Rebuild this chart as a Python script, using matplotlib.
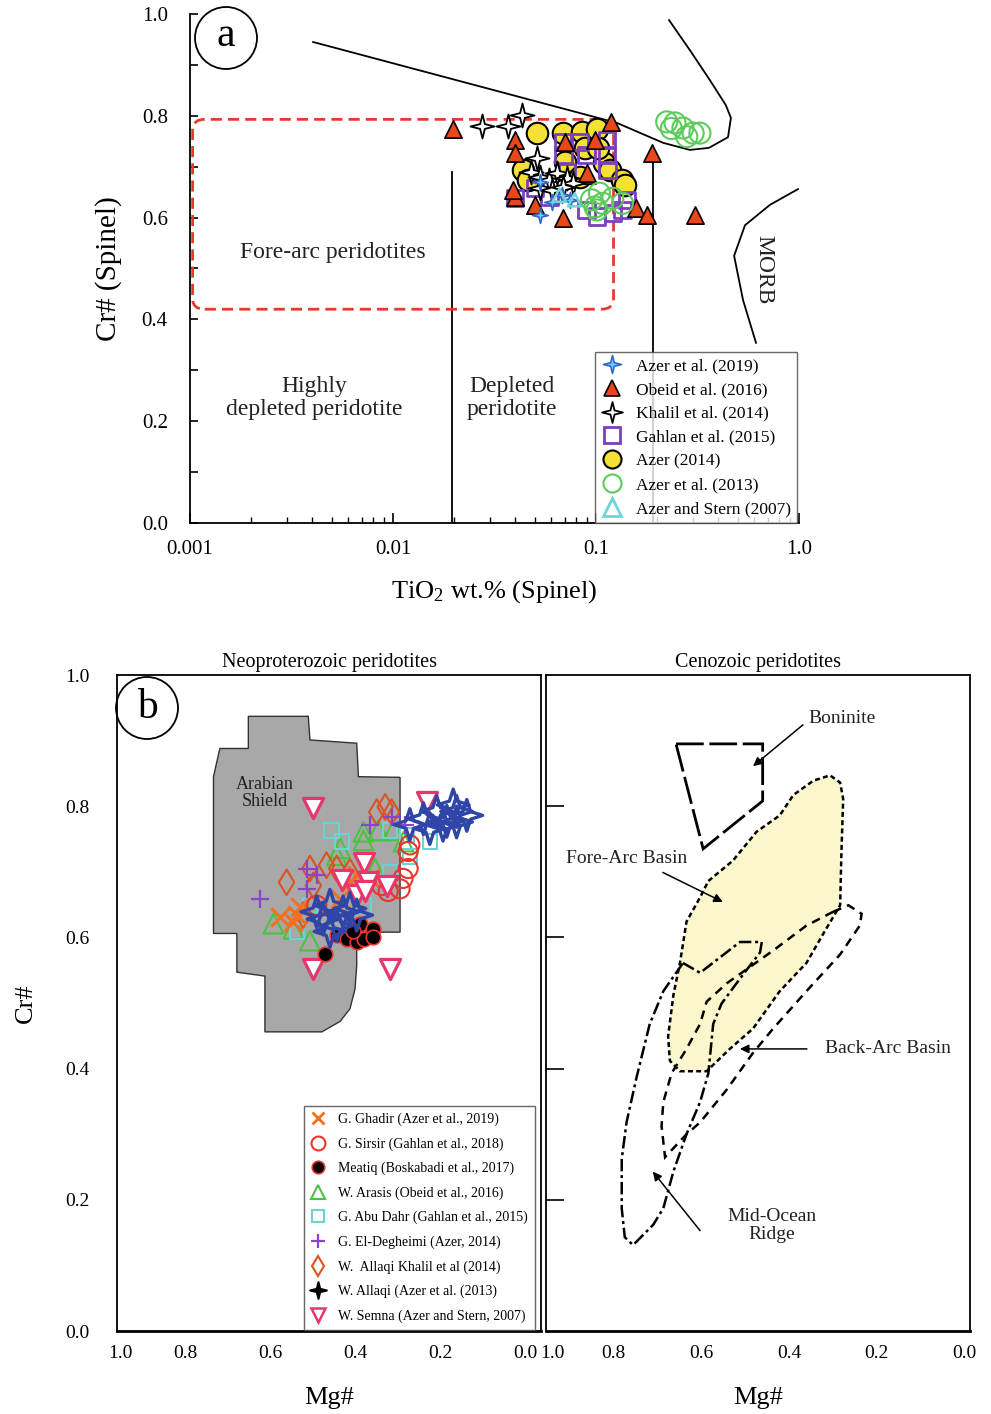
import numpy as np
import matplotlib
matplotlib.use('Agg')
import matplotlib.pyplot as plt
from matplotlib.path import Path
from matplotlib.patches import Polygon, FancyBboxPatch, Ellipse
from matplotlib.lines import Line2D
from matplotlib.ticker import FixedLocator, NullFormatter, LogLocator

plt.rcParams['font.family'] = ['Liberation Serif', 'DejaVu Serif']
plt.rcParams['mathtext.fontset'] = 'custom'
plt.rcParams['mathtext.rm'] = 'Liberation Serif'
plt.rcParams['mathtext.it'] = 'Liberation Serif:italic'

# ---------------- Panel a data (TiO2 wt.%, Cr#) ----------------
azer2019_ti = [0.053, 0.061, 0.0745, 0.068, 0.053]
azer2019_cr = [0.605, 0.631, 0.635, 0.644, 0.670]

obeid_ti = [0.0198, 0.0399, 0.0399, 0.119, 0.0501, 0.069, 0.040, 0.090, 0.099,
            0.070, 0.158, 0.178, 0.307, 0.188, 0.039, 0.090]
obeid_cr = [0.775, 0.752, 0.726, 0.788, 0.625, 0.599, 0.641, 0.684, 0.752,
            0.749, 0.618, 0.605, 0.605, 0.726, 0.654, 0.688]

khalil_ti = [0.0274, 0.037, 0.043, 0.051, 0.048, 0.053, 0.059, 0.064, 0.072,
             0.077, 0.053, 0.061, 0.069]
khalil_cr = [0.779, 0.779, 0.802, 0.717, 0.690, 0.680, 0.674, 0.688, 0.678,
             0.668, 0.658, 0.654, 0.660]

gahlan_ti = [0.069, 0.083, 0.113, 0.069, 0.090, 0.114, 0.072, 0.040, 0.050,
             0.090, 0.101, 0.142, 0.121, 0.135, 0.059, 0.113]
gahlan_cr = [0.749, 0.749, 0.752, 0.723, 0.723, 0.694, 0.690, 0.638, 0.658,
             0.615, 0.602, 0.635, 0.609, 0.615, 0.641, 0.723]

azer2014_ti = [0.051, 0.069, 0.085, 0.101, 0.0438, 0.0464, 0.070, 0.109, 0.117,
               0.134, 0.139, 0.083, 0.088, 0.102]
azer2014_cr = [0.766, 0.766, 0.769, 0.775, 0.694, 0.674, 0.710, 0.707, 0.694,
               0.674, 0.664, 0.680, 0.737, 0.737]

azer2013_ti = [0.095, 0.104, 0.099, 0.108, 0.121, 0.135, 0.101, 0.223, 0.245,
               0.268, 0.301, 0.325, 0.280, 0.235]
azer2013_cr = [0.635, 0.648, 0.621, 0.628, 0.638, 0.628, 0.615, 0.788, 0.786,
               0.776, 0.766, 0.766, 0.759, 0.775]

azerstern_ti = [0.0785, 0.066]
azerstern_cr = [0.635, 0.644]

legend_a = ['Azer et al. (2019)', 'Obeid et al. (2016)', 'Khalil et al. (2014)',
            'Gahlan et al. (2015)', 'Azer (2014)', 'Azer et al. (2013)',
            'Azer and Stern (2007)']

# discrimination boundaries (panel a)
upper_ti = [0.00404, 0.1268, 0.2138, 0.290, 0.360, 0.447, 0.462, 0.436, 0.364, 0.290, 0.229]
upper_cr = [0.945, 0.786, 0.747, 0.733, 0.737, 0.758, 0.796, 0.821, 0.870, 0.929, 0.988]
morb_ti = [0.989, 0.719, 0.542, 0.479, 0.530, 0.614]
morb_cr = [0.656, 0.625, 0.585, 0.525, 0.438, 0.354]
vline1_ti, vline1_cr = [0.0195, 0.0195], [0.0, 0.69]
vline2_ti, vline2_cr = [0.191, 0.191], [0.0, 0.74]
forearc_box_ti = [0.00103, 0.122]
forearc_box_cr = [0.420, 0.793]

xticks_a = [0.001, 0.01, 0.1, 1.0]
xticklabels_a = ['0.001', '0.01', '0.1', '1.0']
yticks_a = [0.0, 0.2, 0.4, 0.6, 0.8, 1.0]

# ---------------- Panel b data (Mg#, Cr#) ----------------
ghadir_mg = [0.576, 0.537, 0.529, 0.546, 0.435, 0.412, 0.396, 0.365]
ghadir_cr = [0.631, 0.634, 0.646, 0.624, 0.659, 0.685, 0.695, 0.690]

sirsir_mg = [0.271, 0.275, 0.275, 0.294, 0.322, 0.337, 0.287, 0.490]
sirsir_cr = [0.741, 0.731, 0.705, 0.674, 0.670, 0.679, 0.690, 0.649]

meatiq_mg = [0.388, 0.357, 0.443, 0.420, 0.396, 0.380, 0.357, 0.471, 0.405]
meatiq_cr = [0.621, 0.613, 0.603, 0.598, 0.593, 0.598, 0.601, 0.575, 0.609]

arasis_mg = [0.380, 0.345, 0.310, 0.380, 0.435, 0.443, 0.353, 0.592, 0.545, 0.506, 0.286]
arasis_cr = [0.761, 0.763, 0.763, 0.748, 0.736, 0.725, 0.705, 0.621, 0.613, 0.595, 0.746]

abudahr_mg = [0.455, 0.318, 0.278, 0.224, 0.271, 0.431, 0.318, 0.506, 0.537, 0.380]
abudahr_cr = [0.763, 0.763, 0.756, 0.746, 0.723, 0.746, 0.700, 0.649, 0.609, 0.649]

degheimi_mg = [0.624, 0.514, 0.514, 0.365, 0.314, 0.282, 0.490]
degheimi_cr = [0.659, 0.705, 0.674, 0.771, 0.784, 0.771, 0.695]

khalilb_mg = [0.561, 0.506, 0.498, 0.467, 0.443, 0.349, 0.329, 0.314, 0.412, 0.522]
khalilb_cr = [0.684, 0.705, 0.679, 0.710, 0.705, 0.791, 0.799, 0.791, 0.700, 0.634]

allaqi_mg = [0.239, 0.208, 0.184, 0.161, 0.137, 0.224, 0.193, 0.161, 0.169, 0.271,
             0.459, 0.428, 0.475, 0.443, 0.412, 0.490, 0.396, 0.459]
allaqi_cr = [0.781, 0.792, 0.777, 0.792, 0.786, 0.766, 0.771, 0.776, 0.802, 0.772,
             0.649, 0.639, 0.628, 0.618, 0.644, 0.639, 0.634, 0.609]

semna_mg = [0.498, 0.231, 0.380, 0.431, 0.369, 0.325, 0.396, 0.376, 0.498, 0.318]
semna_cr = [0.797, 0.807, 0.713, 0.687, 0.685, 0.679, 0.664, 0.670, 0.552, 0.552]

legend_b = ['G. Ghadir (Azer et al., 2019)', 'G. Sirsir (Gahlan et al., 2018)',
            'Meatiq (Boskabadi et al., 2017)', 'W. Arasis (Obeid et al., 2016)',
            'G. Abu Dahr (Gahlan et al., 2015)', 'G. El-Degheimi (Azer, 2014)',
            'W.  Allaqi Khalil et al (2014)', 'W. Allaqi (Azer et al. (2013)',
            'W. Semna (Azer and Stern, 2007)']

shield_mg = [0.651, 0.510, 0.506, 0.396, 0.392, 0.294, 0.294, 0.396, 0.396, 0.400,
             0.412, 0.435, 0.478, 0.612, 0.612, 0.678, 0.678, 0.733, 0.733, 0.718, 0.651]
shield_cr = [0.937, 0.937, 0.901, 0.896, 0.845, 0.844, 0.608, 0.608, 0.557, 0.521,
             0.491, 0.472, 0.456, 0.456, 0.541, 0.547, 0.606, 0.606, 0.845, 0.888, 0.888]

boninite_mg = [0.658, 0.460, 0.460, 0.596]
boninite_cr = [0.895, 0.895, 0.808, 0.735]

forearc_mg = [0.584, 0.528, 0.474, 0.421, 0.390, 0.344, 0.306, 0.283, 0.276, 0.280,
              0.283, 0.322, 0.360, 0.421, 0.482, 0.535, 0.588, 0.649, 0.672, 0.676,
              0.664, 0.649, 0.634, 0.603]
forearc_cr = [0.686, 0.717, 0.761, 0.786, 0.817, 0.839, 0.847, 0.836, 0.811, 0.730,
              0.649, 0.605, 0.561, 0.518, 0.461, 0.430, 0.396, 0.396, 0.412, 0.449,
              0.512, 0.561, 0.624, 0.661]

backarc_mg = [0.299, 0.264, 0.234, 0.238, 0.283, 0.360, 0.436, 0.482, 0.542, 0.603,
              0.634, 0.683, 0.691, 0.687, 0.668, 0.634, 0.603, 0.588, 0.542, 0.436, 0.360]
backarc_cr = [0.639, 0.649, 0.636, 0.618, 0.574, 0.518, 0.461, 0.424, 0.368, 0.318,
              0.300, 0.265, 0.312, 0.349, 0.393, 0.430, 0.468, 0.502, 0.530, 0.580, 0.618]

mor_mg = [0.642, 0.603, 0.512, 0.462, 0.466, 0.512, 0.554, 0.573, 0.584, 0.603,
          0.634, 0.664, 0.687, 0.710, 0.756, 0.775, 0.782, 0.782, 0.771, 0.748,
          0.718, 0.687]
mor_cr = [0.561, 0.546, 0.593, 0.593, 0.577, 0.537, 0.499, 0.468, 0.393, 0.349,
          0.300, 0.243, 0.187, 0.162, 0.131, 0.143, 0.187, 0.262, 0.318, 0.387,
          0.468, 0.518]

yticks_b = [0.0, 0.2, 0.4, 0.6, 0.8, 1.0]
xticks_b = [0.8, 0.6, 0.4, 0.2, 0.0]


def star4(inner=0.3):
    ang = np.arange(8) * np.pi / 4 + np.pi / 2
    r = np.where(np.arange(8) % 2 == 0, 1.0, inner)
    v = np.column_stack([r * np.cos(ang), r * np.sin(ang)])
    v = np.vstack([v, v[0]])
    codes = [Path.MOVETO] + [Path.LINETO] * 7 + [Path.CLOSEPOLY]
    return Path(v, codes)


STAR = star4(0.28)
STARB = star4(0.34)

W, H = 991, 1414
fig = plt.figure(figsize=(W / 100, H / 100), dpi=100)


def ax_rect(x0, y0, x1, y1):
    return [x0 / W, 1 - y1 / H, (x1 - x0) / W, (y1 - y0) / H]

# =============================== Panel a ===============================
axA = fig.add_axes(ax_rect(190, 14, 799, 523))
axA.set_xscale('log')
axA.set_xlim(0.001, 1.0)
axA.set_ylim(0.0, 1.0)
for s in ['top', 'right']:
    axA.spines[s].set_visible(False)
for s in ['left', 'bottom']:
    axA.spines[s].set_linewidth(1.3)

axA.xaxis.set_major_locator(FixedLocator(xticks_a))
axA.set_xticklabels(xticklabels_a)
axA.xaxis.set_minor_locator(LogLocator(base=10, subs=np.arange(2, 10)))
axA.xaxis.set_minor_formatter(NullFormatter())
axA.set_yticks(yticks_a)
axA.set_yticklabels(['%.1f' % v for v in yticks_a])
axA.yaxis.set_minor_locator(FixedLocator(np.arange(0.1, 1.0, 0.2)))
axA.tick_params(axis='x', which='major', direction='in', length=7, width=1.2,
                labelsize=15, pad=12)
axA.tick_params(axis='x', which='minor', direction='in', length=4, width=1.0)
axA.tick_params(axis='y', which='both', direction='in', length=6, width=1.2,
                labelsize=15, pad=16)

lk = dict(color='black', lw=1.3, zorder=2)
axA.plot(upper_ti, upper_cr, **lk)
axA.plot(morb_ti, morb_cr, **lk)
axA.plot(vline1_ti, vline1_cr, **lk)
axA.plot(vline2_ti, vline2_cr, **lk)

# fore-arc rounded box
p0 = axA.transAxes.inverted().transform(axA.transData.transform((forearc_box_ti[0], forearc_box_cr[0])))
p1 = axA.transAxes.inverted().transform(axA.transData.transform((forearc_box_ti[1], forearc_box_cr[1])))
box = FancyBboxPatch(tuple(p0), p1[0] - p0[0], p1[1] - p0[1],
                     boxstyle='round,pad=0,rounding_size=0.02',
                     transform=axA.transAxes, fill=False, edgecolor='#E53B2E',
                     linestyle=(0, (4, 2.2)), lw=2.0, zorder=2)
axA.add_patch(box)

axA.scatter(azer2014_ti, azer2014_cr, s=240, marker='o', facecolor='#F5E133',
            edgecolor='black', linewidth=1.5, zorder=3)
axA.scatter(gahlan_ti, gahlan_cr, s=140, marker='s', facecolor='none',
            edgecolor='#7B3FBF', linewidth=2.0, zorder=4)
axA.scatter(obeid_ti, obeid_cr, s=155, marker='^', facecolor='#E8471A',
            edgecolor='black', linewidth=1.2, zorder=5)
axA.scatter(khalil_ti, khalil_cr, s=300, marker=STAR, facecolor='white',
            edgecolor='black', linewidth=1.3, zorder=6)
axA.scatter(azer2019_ti, azer2019_cr, s=130, marker=STAR, facecolor='#62D2F2',
            edgecolor='#3866C8', linewidth=1.2, zorder=7)
axA.scatter(azerstern_ti, azerstern_cr, s=90, marker='^', facecolor='none',
            edgecolor='#70D4D8', linewidth=1.8, zorder=7)
axA.scatter(azer2013_ti, azer2013_cr, s=230, marker='o', facecolor='none',
            edgecolor='#5CCB5C', linewidth=1.5, zorder=8)

tk = dict(fontsize=17, ha='center', va='center', color='#222222')
axA.text(0.00506, 0.532, 'Fore-arc peridotites', **tk)
axA.text(0.00408, 0.246, 'Highly\ndepleted peridotite', linespacing=1.15, **tk)
axA.text(0.0386, 0.246, 'Depleted\nperidotite', linespacing=1.15, **tk)
axA.text(0.673, 0.497, 'MORB', rotation=-90, **tk)

axA.set_ylabel('Cr# (Spinel)', fontsize=21, labelpad=14)
axA.set_xlabel('TiO$_2$ wt.% (Spinel)', fontsize=19, labelpad=14)

handles_a = [
    Line2D([], [], ls='none', marker=STAR, ms=13, mfc='#62D2F2', mec='#3866C8', mew=1.2),
    Line2D([], [], ls='none', marker='^', ms=11, mfc='#E8471A', mec='black', mew=1.2),
    Line2D([], [], ls='none', marker=STAR, ms=15, mfc='white', mec='black', mew=1.3),
    Line2D([], [], ls='none', marker='s', ms=11, mfc='none', mec='#7B3FBF', mew=2.0),
    Line2D([], [], ls='none', marker='o', ms=13, mfc='#F5E133', mec='black', mew=1.5),
    Line2D([], [], ls='none', marker='o', ms=13, mfc='none', mec='#5CCB5C', mew=1.5),
    Line2D([], [], ls='none', marker='^', ms=13, mfc='none', mec='#70D4D8', mew=2.0),
]
legA = axA.legend(handles_a, legend_a, loc='lower right', bbox_to_anchor=(0.9967, 0.0),
                  borderaxespad=0, frameon=True, fancybox=False, edgecolor='#444444',
                  fontsize=12.5, labelspacing=0.44, handlelength=1.2, handletextpad=0.8,
                  borderpad=0.35)
legA.get_frame().set_linewidth(1.0)
legA.set_zorder(10)

fig.add_artist(Ellipse((226 / W, 1 - 38 / H), 62 / W, 62 / H, transform=fig.transFigure,
                       fill=False, edgecolor='black', lw=1.3))
fig.text(226 / W, 1 - 36 / H, 'a', fontsize=30, ha='center', va='center')

# =============================== Panel b ===============================
axL = fig.add_axes(ax_rect(117, 675, 541, 1331))
axR = fig.add_axes(ax_rect(546, 675, 970, 1331))
axL.set_xlim(0.96, -0.0376)
axR.set_xlim(0.955, -0.0137)
for ax in (axL, axR):
    ax.set_ylim(0.0, 1.0)
    for s in ax.spines.values():
        s.set_linewidth(1.3)
    ax.spines['bottom'].set_linewidth(2.0)

axL.set_yticks(yticks_b)
axL.set_yticklabels(['%.1f' % v for v in yticks_b])
axL.tick_params(axis='y', direction='in', length=0, labelsize=14, pad=20)
axL.set_xticks([0.953] + xticks_b)
axL.set_xticklabels(['1.0'] + ['%.1f' % v for v in xticks_b])
axL.xaxis.set_minor_locator(FixedLocator([0.8, 0.6, 0.4, 0.2]))
axL.tick_params(axis='x', which='major', direction='in', length=0, labelsize=14, pad=10)
axL.tick_params(axis='x', which='minor', direction='in', length=9, width=1.2)

axR.set_yticks([0.2, 0.4, 0.6, 0.8])
axR.set_yticklabels([])
axR.tick_params(axis='y', direction='in', length=13, width=1.2)
axR.set_xticks([0.94] + xticks_b)
axR.set_xticklabels(['1.0'] + ['%.1f' % v for v in xticks_b])
axR.xaxis.set_minor_locator(FixedLocator([0.8, 0.6, 0.4, 0.2]))
axR.tick_params(axis='x', which='major', direction='in', length=0, labelsize=14, pad=10)
axR.tick_params(axis='x', which='minor', direction='in', length=9, width=1.2)

axL.set_title('Neoproterozoic peridotites', fontsize=14.5, pad=6)
axR.set_title('Cenozoic peridotites', fontsize=14.5, pad=6)
axL.set_xlabel('Mg#', fontsize=19, labelpad=18)
axR.set_xlabel('Mg#', fontsize=19, labelpad=18)
axL.set_ylabel('Cr#', fontsize=19)
axL.yaxis.set_label_coords(-0.19, 0.5)

# Arabian Shield field
axL.add_patch(Polygon(np.column_stack([shield_mg, shield_cr]), closed=True,
                      facecolor='#A8A8A8', edgecolor='#333333', lw=1.0, zorder=1))
axL.text(0.612, 0.820, 'Arabian\nShield', fontsize=13, ha='center', va='center',
         linespacing=1.0, color='#222222', zorder=2)

axL.scatter(arasis_mg, arasis_cr, s=200, marker='^', facecolor='none',
            edgecolor='#4CC242', linewidth=1.5, zorder=3)
axL.scatter(abudahr_mg, abudahr_cr, s=110, marker='s', facecolor='none',
            edgecolor='#6CD3D3', linewidth=1.5, zorder=3)
axL.scatter(khalilb_mg, khalilb_cr, s=170, marker='d', facecolor='none',
            edgecolor='#D9541E', linewidth=1.5, zorder=4)
axL.scatter(degheimi_mg, degheimi_cr, s=180, marker='+', color='#8A44C8',
            linewidth=1.6, zorder=4)
axL.scatter(ghadir_mg, ghadir_cr, s=170, marker='x', color='#F37021',
            linewidth=2.2, zorder=5)
axL.scatter(sirsir_mg, sirsir_cr, s=190, marker='o', facecolor='none',
            edgecolor='#E8362B', linewidth=1.5, zorder=5)
axL.scatter(semna_mg, semna_cr, s=210, marker='v', facecolor='white',
            edgecolor='#E8356A', linewidth=2.3, zorder=6)
axL.scatter(meatiq_mg, meatiq_cr, s=110, marker='o', facecolor='black',
            edgecolor='#E8362B', linewidth=1.2, zorder=6)
axL.scatter(allaqi_mg, allaqi_cr, s=520, marker=STARB, facecolor='none',
            edgecolor='#2F45A8', linewidth=2.4, zorder=7)

handles_b = [
    Line2D([], [], ls='none', marker='x', ms=9, mec='#F37021', mew=2.0),
    Line2D([], [], ls='none', marker='o', ms=10, mfc='none', mec='#E8362B', mew=1.5),
    Line2D([], [], ls='none', marker='o', ms=9, mfc='black', mec='#E8362B', mew=1.2),
    Line2D([], [], ls='none', marker='^', ms=10, mfc='none', mec='#4CC242', mew=1.5),
    Line2D([], [], ls='none', marker='s', ms=8, mfc='none', mec='#6CD3D3', mew=1.5),
    Line2D([], [], ls='none', marker='+', ms=10, mec='#8A44C8', mew=1.6),
    Line2D([], [], ls='none', marker='d', ms=10, mfc='none', mec='#D9541E', mew=1.5),
    Line2D([], [], ls='none', marker=STAR, ms=12, mfc='black', mec='black', mew=1.5),
    Line2D([], [], ls='none', marker='v', ms=10, mfc='none', mec='#E8356A', mew=1.8),
]
legB = axL.legend(handles_b, legend_b, loc='lower right', bbox_to_anchor=(0.986, 0.002),
                  borderaxespad=0, frameon=True, fancybox=False, edgecolor='#444444',
                  fontsize=10, labelspacing=0.8, handlelength=1.0, handletextpad=1.0,
                  borderpad=0.5)
legB.get_frame().set_linewidth(1.0)
legB.set_zorder(10)

fig.add_artist(Ellipse((147 / W, 1 - 708 / H), 62 / W, 62 / H, transform=fig.transFigure,
                       fill=False, edgecolor='black', lw=1.3))
fig.text(147 / W, 1 - 708 / H, 'b', fontsize=30, ha='center', va='center')

# Cenozoic fields
axR.add_patch(Polygon(np.column_stack([forearc_mg, forearc_cr]), closed=True,
                      facecolor='#FBF6CC', edgecolor='black', lw=1.8,
                      linestyle=(0, (2, 1.3)), zorder=1))
axR.add_patch(Polygon(np.column_stack([boninite_mg, boninite_cr]), closed=True,
                      fill=False, edgecolor='black', lw=2.0,
                      linestyle=(0, (10, 2)), zorder=2))
axR.add_patch(Polygon(np.column_stack([backarc_mg, backarc_cr]), closed=True,
                      fill=False, edgecolor='black', lw=1.8,
                      linestyle=(0, (3.5, 2.5)), zorder=2))
axR.add_patch(Polygon(np.column_stack([mor_mg, mor_cr]), closed=True,
                      fill=False, edgecolor='black', lw=1.8,
                      linestyle=(0, (5, 1.5, 1.2, 1.5)), zorder=2))

ap = dict(arrowstyle='-|>', color='black', lw=1.1, mutation_scale=13, shrinkA=0, shrinkB=0)
tk2 = dict(fontsize=14, ha='center', va='center', color='#222222')
axR.text(0.279, 0.934, 'Boninite', **tk2)
axR.annotate('', xy=(0.482, 0.861), xytext=(0.368, 0.924), arrowprops=ap)
axR.text(0.770, 0.720, 'Fore-Arc Basin', **tk2)
axR.annotate('', xy=(0.551, 0.654), xytext=(0.688, 0.699), arrowprops=ap)
axR.text(0.174, 0.431, 'Back-Arc Basin', **tk2)
axR.annotate('', xy=(0.512, 0.430), xytext=(0.359, 0.430), arrowprops=ap)
axR.text(0.439, 0.161, 'Mid-Ocean\nRidge', linespacing=1.05, **tk2)
axR.annotate('', xy=(0.711, 0.243), xytext=(0.603, 0.153), arrowprops=ap)

fig.savefig('out.png', dpi=100)
